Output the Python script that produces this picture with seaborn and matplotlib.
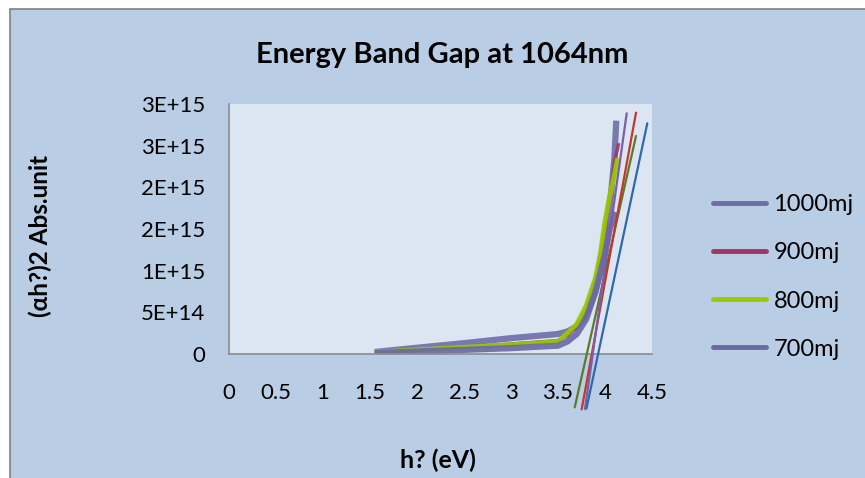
import numpy as np
import pandas as pd
import matplotlib
matplotlib.use("Agg")
import matplotlib.pyplot as plt
from matplotlib.patches import Rectangle
from matplotlib.lines import Line2D
import seaborn as sns

# ---- data ----
series_names = ["1000mj", "900mj", "800mj", "700mj"]

x_1000 = [1.55, 2.0, 2.5, 3.0, 3.5, 3.6, 3.7, 3.8, 3.9, 4.0, 4.05, 4.1, 4.12]
y_1000 = [0.024e15, 0.075e15, 0.13e15, 0.19e15, 0.24e15, 0.27e15, 0.33e15, 0.47e15,
          0.76e15, 1.3e15, 1.75e15, 2.35e15, 2.8e15]

x_900 = [1.55, 2.0, 2.5, 3.0, 3.5, 3.6, 3.7, 3.8, 3.9, 4.0, 4.05, 4.1, 4.146]
y_900 = [0.015e15, 0.045e15, 0.08e15, 0.12e15, 0.16e15, 0.22e15, 0.33e15, 0.55e15,
         0.9e15, 1.5e15, 1.9e15, 2.3e15, 2.53e15]

x_800 = [1.55, 2.0, 2.5, 3.0, 3.5, 3.6, 3.7, 3.8, 3.9, 3.95, 4.0, 4.05, 4.1, 4.135]
y_800 = [0.02e15, 0.05e15, 0.08e15, 0.11e15, 0.15e15, 0.25e15, 0.36e15, 0.58e15,
         0.92e15, 1.2e15, 1.6e15, 1.9e15, 2.15e15, 2.35e15]

x_700 = [1.55, 2.0, 2.5, 3.0, 3.5, 3.6, 3.7, 3.8, 3.9, 4.0, 4.05, 4.1, 4.12]
y_700 = [0.01e15, 0.03e15, 0.05e15, 0.07e15, 0.1e15, 0.15e15, 0.24e15, 0.42e15,
         0.75e15, 1.2e15, 1.5e15, 1.65e15, 1.7e15]

# linear fit lines (tangents), endpoints
fit_x_purple = [3.787, 4.231]
fit_y_purple = [-0.66e15, 2.888e15]
fit_x_red = [3.752, 4.330]
fit_y_red = [-0.664e15, 2.896e15]
fit_x_green = [3.678, 4.330]
fit_y_green = [-0.64e15, 2.616e15]
fit_x_blue = [3.803, 4.450]
fit_y_blue = [-0.654e15, 2.768e15]

x_ticks = [0, 0.5, 1, 1.5, 2, 2.5, 3, 3.5, 4, 4.5]
x_tick_labels = ["0", "0.5", "1", "1.5", "2", "2.5", "3", "3.5", "4", "4.5"]
y_ticks = [0, 0.5e15, 1.0e15, 1.5e15, 2.0e15, 2.5e15, 3.0e15]
y_tick_labels = ["0", "5E+14", "1E+15", "2E+15", "2E+15", "3E+15", "3E+15"]

# ---- styling ----
sns.set_theme(style="white")
plt.rcParams["font.family"] = ["Lato", "DejaVu Sans"]
plt.rcParams["text.color"] = "black"

colors = {"1000mj": "#6F6DA8", "900mj": "#9E3766", "800mj": "#99CC00", "700mj": "#6B69A4"}
widths = {"1000mj": 4.5, "900mj": 2.5, "800mj": 3.5, "700mj": 4.5}

fig = plt.figure(figsize=(8.65, 4.78), dpi=100, facecolor="white")
# chart area background with border
fig.patches.append(Rectangle((10 / 865, -0.1), 1.0, (478 - 9) / 478 + 0.1,
                             transform=fig.transFigure, facecolor="#B9CDE5",
                             edgecolor="#808080", linewidth=1.2, zorder=-5))

ax = fig.add_axes([229 / 865, 1 - 354 / 478, (652 - 229) / 865, (354 - 104) / 478])
ax.set_zorder(2)
ax.set_facecolor("#DCE6F2")

frames = []
for name, xs, ys in [("1000mj", x_1000, y_1000), ("900mj", x_900, y_900),
                     ("800mj", x_800, y_800), ("700mj", x_700, y_700)]:
    frames.append(pd.DataFrame({"x": xs, "y": ys, "series": name}))
df = pd.concat(frames, ignore_index=True)

for name in series_names:
    sub = df[df["series"] == name]
    sns.lineplot(data=sub, x="x", y="y", ax=ax, color=colors[name],
                 linewidth=widths[name], sort=False, legend=False,
                 alpha=0.9, solid_capstyle="butt")

fit_lines = [(fit_x_green, fit_y_green, "#5B7A2C"),
             (fit_x_red, fit_y_red, "#C0392B"),
             (fit_x_purple, fit_y_purple, "#7B5EA7"),
             (fit_x_blue, fit_y_blue, "#2F69A8")]
for fx, fy, c in fit_lines:
    ax.plot(fx, fy, color=c, linewidth=1.6, clip_on=False, zorder=5)

ax.set_xlim(0, 4.5)
ax.set_ylim(0, 3e15)
ax.set_xticks(x_ticks)
ax.set_xticklabels(x_tick_labels, fontsize=16)
ax.set_yticks(y_ticks)
ax.set_yticklabels(y_tick_labels, fontsize=16)
ax.tick_params(axis="both", length=0, colors="black")
ax.tick_params(axis="x", pad=21)
ax.tick_params(axis="y", pad=17)
ax.set_xlabel("")
ax.set_ylabel("")
for side in ["top", "right"]:
    ax.spines[side].set_visible(False)
for side in ["left", "bottom"]:
    ax.spines[side].set_color("#8C8C8C")
    ax.spines[side].set_linewidth(1.2)

fig.text(442 / 865, 1 - 55 / 478, "Energy Band Gap at 1064nm", fontsize=21,
         fontweight="bold", ha="center", va="center", color="black")
fig.text(438 / 865, 1 - 460 / 478, "h? (eV)", fontsize=18, fontweight="bold",
         ha="center", va="center", color="black")
fig.text(40 / 865, 1 - 236 / 478, "(αh?)2 Abs.unit", fontsize=17.5, fontweight="bold",
         ha="center", va="center", rotation=90, color="black")

handles = [Line2D([0], [0], color=colors[n], linewidth=3.5) for n in series_names]
fig.legend(handles, series_names, loc="upper left",
           bbox_to_anchor=(692 / 865, 1 - 173 / 478), frameon=False,
           fontsize=17, handlelength=2.25, handletextpad=0.3, labelspacing=1.15)

fig.savefig("out.png", dpi=100, facecolor=fig.get_facecolor())
